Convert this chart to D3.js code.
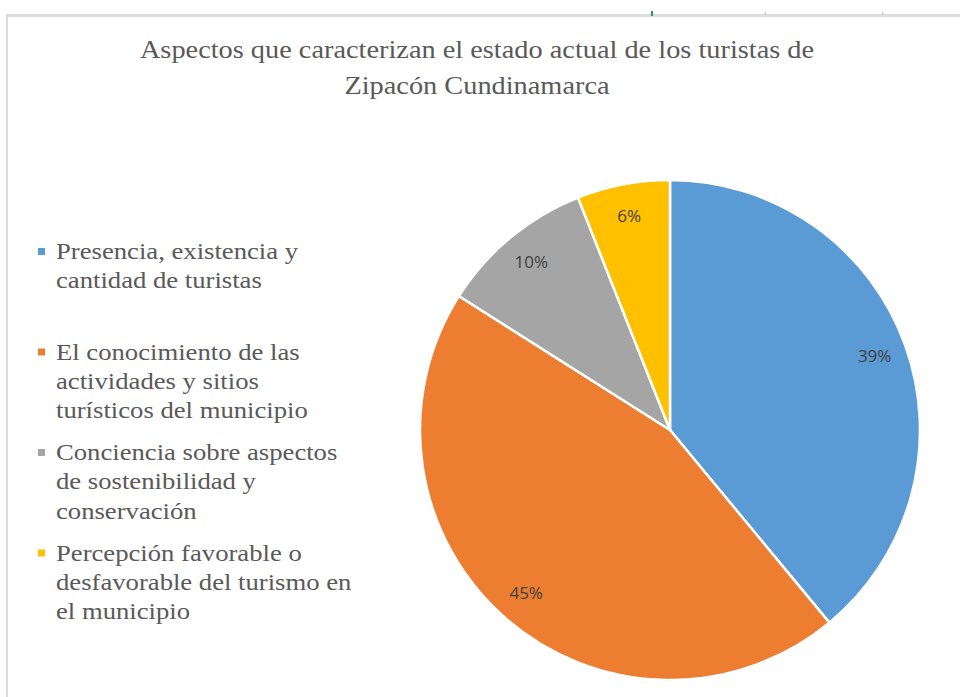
<!DOCTYPE html>
<html>
<head>
<meta charset="utf-8">
<script src="https://cdn.jsdelivr.net/npm/d3@7"></script>
<style>
 body { margin: 0; background: #fff; }
 svg { display: block; }
</style>
</head>
<body>
<svg width="960" height="697"></svg>
<script>
// Data.

var categories = [
 'Presencia, existencia y cantidad de turistas',
 'El conocimiento de las actividades y sitios turísticos del municipio',
 'Conciencia sobre aspectos de sostenibilidad y conservación',
 'Percepción favorable o desfavorable del turismo en el municipio'
];
var legendLines = [
 ['Presencia, existencia y', 'cantidad de turistas'],
 ['El conocimiento de las', 'actividades y sitios', 'turísticos del municipio'],
 ['Conciencia sobre aspectos', 'de sostenibilidad y', 'conservación'],
 ['Percepción favorable o', 'desfavorable del turismo en', 'el municipio']
];
var values = [39, 45, 10, 6];
var titleLines = ['Aspectos que caracterizan el estado actual de los turistas de', 'Zipacón Cundinamarca'];

var svg = d3.select('svg');
var serif = '"Liberation Serif", "Times New Roman", serif';

// Frame lines of the chart area.

svg.append('rect').attr('x', 6).attr('y', 14).attr('width', 954).attr('height', 3).attr('fill', '#dcdcdc');
svg.append('rect').attr('x', 6).attr('y', 14).attr('width', 2).attr('height', 683).attr('fill', '#dcdcdc');
svg.append('rect').attr('x', 651).attr('y', 11).attr('width', 2).attr('height', 5).attr('fill', '#2e9b5a');
svg.append('rect').attr('x', 765).attr('y', 12).attr('width', 1).attr('height', 3).attr('fill', '#c8c8c8');
svg.append('rect').attr('x', 882).attr('y', 12).attr('width', 1).attr('height', 3).attr('fill', '#c8c8c8');

// Title. The source text is drawn a little wider than the font, so stretch it.

var titleStretch = 1.09;
svg.append('g')
 .attr('transform', 'translate(477,0) scale(' + titleStretch + ',1)')
 .selectAll('text')
 .data(titleLines)
 .enter().append('text')
 .attr('x', 0)
 .attr('y', function(d, i) { return 58 + i * 36; })
 .attr('text-anchor', 'middle')
 .style('font-family', serif)
 .style('font-size', '26px')
 .attr('fill', '#595959')
 .text(function(d) { return d; });

// Pie.

var color = d3.scaleOrdinal()
 .domain(categories)
 .range(['#5b9bd5', '#ed7d31', '#a5a5a5', '#ffc000']);

var radius = 250;
var pie = d3.pie().sort(null).value(function(d) { return d; });
var arc = d3.arc().innerRadius(0).outerRadius(radius);
var labelArc = d3.arc().innerRadius(radius * 0.87).outerRadius(radius * 0.87);

var graphic = svg.append('g').attr('transform', 'translate(670,430)');

var slices = pie(values);

graphic.selectAll('path')
 .data(slices)
 .enter().append('path')
 .attr('d', arc)
 .attr('fill', function(d, i) { return color(categories[i]); })
 .attr('stroke', '#fff')
 .attr('stroke-width', 2.5);

graphic.selectAll('text')
 .data(slices)
 .enter().append('text')
 .attr('transform', function(d) { return 'translate(' + labelArc.centroid(d) + ')'; })
 .attr('text-anchor', 'middle')
 .attr('dy', '0.35em')
 .style('font-family', '"Open Sans", sans-serif')
 .style('font-size', '17px')
 .attr('fill', '#404040')
 .text(function(d) { return d.data + '%'; });

// Legend.

var legendStretch = 1.16;
var legend = svg.append('g');
var item = legend.selectAll('g')
 .data(legendLines)
 .enter().append('g')
 .attr('transform', function(d, i) { return 'translate(38,' + (259 + i * 100.5) + ')'; });

item.append('rect')
 .attr('x', 0)
 .attr('y', -11)
 .attr('width', 7)
 .attr('height', 7)
 .attr('fill', function(d, i) { return color(categories[i]); });

item.append('g')
 .attr('transform', 'translate(18,0) scale(' + legendStretch + ',1)')
 .selectAll('text')
 .data(function(d) { return d; })
 .enter().append('text')
 .attr('x', 0)
 .attr('y', function(d, i) { return i * 29.5; })
 .style('font-family', serif)
 .style('font-size', '23px')
 .attr('fill', '#595959')
 .text(function(d) { return d; });
</script>
</body>
</html>
